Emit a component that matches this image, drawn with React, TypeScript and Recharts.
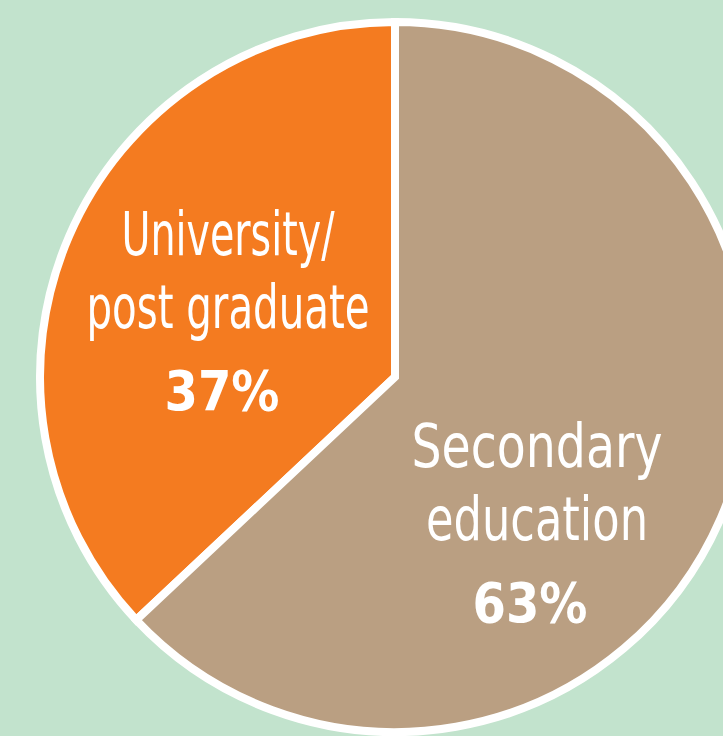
import { PieChart, Pie, Cell } from 'recharts';

const categories = ['University/ post graduate', 'Secondary education'];
const shares = [37, 63];
const labelLines = [
  ['University/', 'post graduate'],
  ['Secondary', 'education'],
];
const colors = ['#F47B20', '#BA9F82'];

const data = categories.map((name, i) => ({ name, value: shares[i] }));

// label block placement relative to pie center, plus condensed widths
const labelPos = [
  { dx: -167, dy: -122, pdx: -173, widths: [213, 283], pw: 115 },
  { dx: 142, dy: 90, pdx: 135, widths: [251, 222], pw: 115 },
];

const FONT = "'Liberation Sans Narrow', 'DejaVu Sans Condensed', 'Arial Narrow', sans-serif";

const renderLabel = (props: any) => {
  const { cx, cy, index } = props;
  const p = labelPos[index];
  const x = cx + p.dx;
  const y = cy + p.dy;
  const lines = labelLines[index];
  return (
    <g key={`lbl-${index}`} fill="#FFFFFF" fontFamily={FONT}>
      <text x={x - p.widths[0] / 2} y={y} fontSize={61} textLength={p.widths[0]} lengthAdjust="spacingAndGlyphs">
        {lines[0]}
      </text>
      <text x={x - p.widths[1] / 2} y={y + 73} fontSize={61} textLength={p.widths[1]} lengthAdjust="spacingAndGlyphs">
        {lines[1]}
      </text>
      <text
        x={cx + p.pdx - p.pw / 2}
        y={y + 155}
        fontSize={56}
        fontWeight="bold"
        textLength={p.pw}
        lengthAdjust="spacingAndGlyphs"
      >
        {shares[index]}%
      </text>
    </g>
  );
};

export default function App() {
  return (
    <div
      style={{
        position: 'absolute',
        left: 0,
        top: 0,
        width: 723,
        height: 736,
        background: '#C2E3CD',
        overflow: 'hidden',
      }}
    >
      <PieChart width={723} height={736} margin={{ top: 0, right: 0, bottom: 0, left: 0 }}>
        <Pie
          data={data}
          dataKey="value"
          nameKey="name"
          cx={395}
          cy={377}
          outerRadius={355}
          startAngle={90}
          endAngle={450}
          stroke="#FFFFFF"
          strokeWidth={8}
          label={renderLabel}
          labelLine={false}
          isAnimationActive={false}
        >
          {data.map((d, i) => (
            <Cell key={d.name} fill={colors[i]} />
          ))}
        </Pie>
      </PieChart>
    </div>
  );
}
